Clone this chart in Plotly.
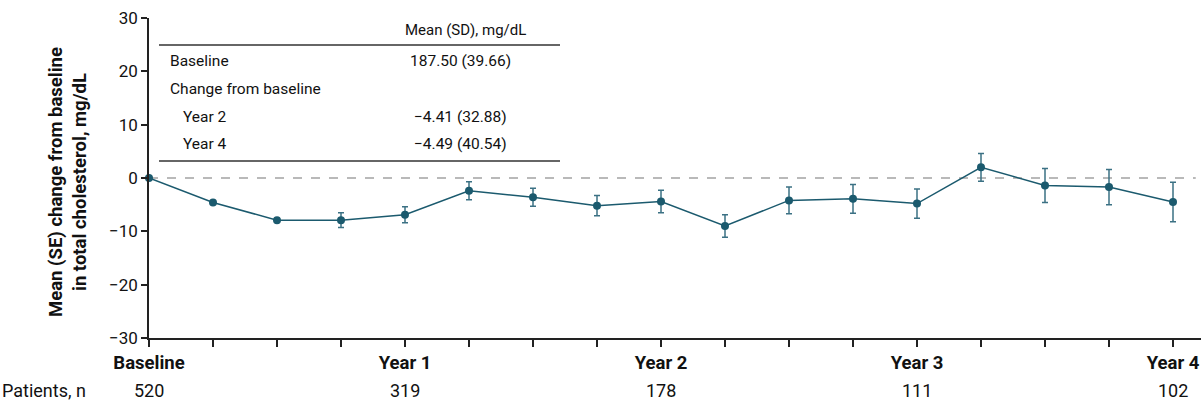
import plotly.graph_objects as go

# Visit schedule (months since baseline) and mean (SE) change in total cholesterol, mg/dL
months = [0, 3, 6, 9, 12, 15, 18, 21, 24, 27, 30, 33, 36, 39, 42, 45, 48]
mean_change = [0.0, -4.6, -7.9, -7.9, -6.9, -2.4, -3.6, -5.2, -4.41, -9.0,
               -4.2, -3.9, -4.8, 2.0, -1.4, -1.7, -4.49]
se_change = [0.0, 0.3, 0.3, 1.4, 1.5, 1.7, 1.7, 1.9, 2.1, 2.1,
             2.5, 2.7, 2.75, 2.6, 3.2, 3.3, 3.7]

# Labelled visits and patient counts
year_months = [0, 12, 24, 36, 48]
year_labels = ["Baseline", "Year 1", "Year 2", "Year 3", "Year 4"]
patients_n = [520, 319, 178, 111, 102]

# Summary table
table_header = "Mean (SD), mg/dL"
table_rows = ["Baseline", "Change from baseline", "Year 2", "Year 4"]
table_values = ["187.50 (39.66)", "", "\u22124.41 (32.88)", "\u22124.49 (40.54)"]
table_indent = [False, False, True, True]

TEAL = "#1b5a6e"
BAR = "#3b7184"
AXIS = "#222222"
FONT = "Roboto, Arial, sans-serif"
INK = "#111111"

fig = go.Figure()

fig.add_trace(go.Scatter(
    x=months, y=mean_change,
    mode="lines+markers",
    line=dict(color=TEAL, width=1.5),
    marker=dict(color=TEAL, size=8),
    error_y=dict(type="data", array=se_change, visible=True,
                 color=BAR, thickness=1.5, width=3),
    cliponaxis=False,
    showlegend=False,
))

# Zero reference line
fig.add_shape(type="line", xref="paper", yref="y", x0=0, x1=0.995, y0=0, y1=0,
              line=dict(color="#a3a3a3", width=1.5, dash="dash"), layer="below")

tickvals = months
ticktext = []
for m in months:
    if m in year_months:
        ticktext.append("<b>%s</b>" % year_labels[year_months.index(m)])
    else:
        ticktext.append("")

PLOT_W = 1052.0
PLOT_H = 320.0
px_per_month = (1173 - 149) / 48.0
x_max = PLOT_W / px_per_month

fig.update_layout(
    width=1201, height=402,
    margin=dict(l=149, r=0, t=18, b=64),
    paper_bgcolor="white", plot_bgcolor="white",
    font=dict(family=FONT, size=16, color=INK),
    xaxis=dict(
        range=[0, x_max], tickvals=tickvals, ticktext=ticktext,
        ticks="outside", ticklen=7, tickwidth=1.5, tickcolor=AXIS,
        showline=True, linecolor=AXIS, linewidth=1.5,
        showgrid=False, zeroline=False,
        tickfont=dict(family=FONT, size=18.5, color=INK),
    ),
    yaxis=dict(
        range=[-30, 30], tickvals=[-30, -20, -10, 0, 10, 20, 30],
        ticktext=["\u221230", "\u221220", "\u221210", "0", "10", "20", "30"],
        ticks="outside", ticklen=6, tickwidth=1.5, tickcolor=AXIS,
        showline=True, linecolor=AXIS, linewidth=1.5,
        showgrid=False, zeroline=False,
        tickfont=dict(family=FONT, size=17, color=INK),
    ),
)

def px_x(p):
    return (p - 149) / PLOT_W

def px_y(p):
    return (338 - p) / PLOT_H

annotations = []

# Y-axis title, two lines
for text, xc in [("Mean (SE) change from baseline", 56), ("in total cholesterol, mg/dL", 80)]:
    annotations.append(dict(
        text="<b>%s</b>" % text, xref="paper", yref="paper",
        x=px_x(xc), y=px_y(182), xanchor="center", yanchor="middle",
        textangle=-90, showarrow=False,
        font=dict(family=FONT, size=18.5, color=INK),
    ))

# Patient counts row
annotations.append(dict(
    text="Patients, n", xref="paper", yref="paper", x=px_x(0), y=px_y(390),
    xanchor="left", yanchor="middle", showarrow=False,
    font=dict(family=FONT, size=18, color=INK),
))
for m, n in zip(year_months, patients_n):
    annotations.append(dict(
        text=str(n), xref="x", yref="paper", x=m, y=px_y(390),
        xanchor="center", yanchor="middle", showarrow=False,
        font=dict(family=FONT, size=18, color=INK),
    ))

# Summary table
annotations.append(dict(
    text=table_header, xref="paper", yref="paper", x=px_x(465), y=px_y(30),
    xanchor="center", yanchor="middle", showarrow=False,
    font=dict(family=FONT, size=15, color=INK),
))
row_y = [61, 89, 116.5, 144]
for label, val, ind, yy in zip(table_rows, table_values, table_indent, row_y):
    annotations.append(dict(
        text=label, xref="paper", yref="paper",
        x=px_x(181 if ind else 168), y=px_y(yy),
        xanchor="left", yanchor="middle", showarrow=False,
        font=dict(family=FONT, size=15.5, color=INK),
    ))
    if val:
        annotations.append(dict(
            text=val, xref="paper", yref="paper", x=px_x(460), y=px_y(yy),
            xanchor="center", yanchor="middle", showarrow=False,
            font=dict(family=FONT, size=15.5, color=INK),
        ))

for yy in [45, 161]:
    fig.add_shape(type="line", xref="paper", yref="paper",
                  x0=px_x(159), x1=px_x(560), y0=px_y(yy), y1=px_y(yy),
                  line=dict(color="#333333", width=1.5))

fig.update_layout(annotations=annotations)

fig.write_html("out.html")
